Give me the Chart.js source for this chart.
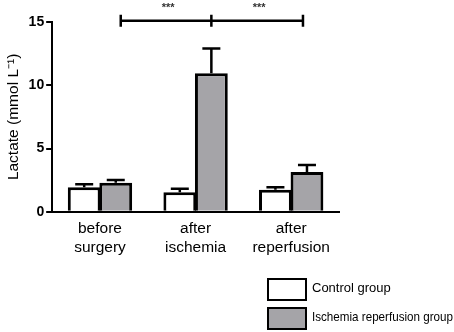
<!DOCTYPE html>
<html><head><meta charset="utf-8">
<script src="https://cdn.jsdelivr.net/npm/chart.js@4"></script>
<style>html,body{margin:0;padding:0;background:#fff;}#wrap{width:454px;height:332px;position:relative;}</style>
</head><body><div id="wrap"><canvas id="c" width="454" height="332"></canvas></div>
<script>
const categories = [['before','surgery'],['after','ischemia'],['after','reperfusion']];
const seriesNames = ['Control group','Ischemia reperfusion group'];
const control = [1.95, 1.55, 1.75];
const controlErr = [0.22, 0.28, 0.2];
const ischemia = [2.3, 10.95, 3.15];
const ischemiaErr = [0.22, 1.95, 0.55];
const yTicks = [0, 5, 10, 15];
const bracketLevel = 15.1;
const bracketLabel = '***';

const FONT = "'Liberation Sans', Arial, sans-serif";
const errors = [controlErr, ischemiaErr];

const errorBarPlugin = {
  id: 'errorBars',
  afterDatasetsDraw(chart) {
    const ctx = chart.ctx, y = chart.scales.y;
    ctx.save();
    ctx.strokeStyle = '#000';
    ctx.lineWidth = 2.5;
    chart.data.datasets.forEach((ds, di) => {
      const meta = chart.getDatasetMeta(di);
      meta.data.forEach((el, i) => {
        const top = y.getPixelForValue(ds.data[i] + errors[di][i]);
        ctx.beginPath();
        ctx.moveTo(el.x, el.y);
        ctx.lineTo(el.x, top);
        ctx.moveTo(el.x - 9, top);
        ctx.lineTo(el.x + 9, top);
        ctx.stroke();
      });
    });
    // significance bracket
    const m = chart.getDatasetMeta(1).data;
    const by = y.getPixelForValue(bracketLevel);
    const x0 = m[0].x + 5, x1 = m[1].x, x2 = m[2].x - 4;
    ctx.lineWidth = 2.5;
    ctx.beginPath();
    ctx.moveTo(x0, by); ctx.lineTo(x2, by);
    [x0, x1, x2].forEach(x => { ctx.moveTo(x, by - 6); ctx.lineTo(x, by + 6); });
    ctx.stroke();
    ctx.fillStyle = '#333';
    ctx.font = 'bold 11px ' + FONT;
    ctx.textAlign = 'center';
    ctx.textBaseline = 'middle';
    ctx.fillText(bracketLabel, (x0 + x1) / 2 + 2, by - 13);
    ctx.fillText(bracketLabel, (x1 + x2) / 2 + 2, by - 13);
    ctx.restore();
  }
};

const legendPlugin = {
  id: 'boxLegend',
  afterDraw(chart) {
    const ctx = chart.ctx;
    ctx.save();
    chart.data.datasets.forEach((ds, i) => {
      const bx = 267, by = 278 + i * 29, bw = 40, bh = 23;
      ctx.fillStyle = ds.backgroundColor;
      ctx.fillRect(bx, by, bw, bh);
      ctx.strokeStyle = '#000';
      ctx.lineWidth = 2;
      ctx.strokeRect(bx + 1, by + 1, bw - 2, bh - 2);
      ctx.fillStyle = '#000';
      ctx.font = '13px ' + FONT;
      ctx.textAlign = 'left';
      ctx.textBaseline = 'middle';
      const tx = bx + 45;
      ctx.fillText(ds.label, tx, by + 10, chart.width - tx - 1);
    });
    ctx.restore();
  }
};

new Chart(document.getElementById('c'), {
  type: 'bar',
  data: {
    labels: categories,
    datasets: [
      { label: seriesNames[0], data: control, backgroundColor: '#ffffff', borderColor: '#000', borderWidth: 3, borderSkipped: 'bottom' },
      { label: seriesNames[1], data: ischemia, backgroundColor: '#a5a4a8', borderColor: '#000', borderWidth: 3, borderSkipped: 'bottom' }
    ]
  },
  options: {
    responsive: false,
    animation: false,
    datasets: { bar: { categoryPercentage: 0.66, barPercentage: 1.04 } },
    layout: { padding: { top: 22, right: 115, bottom: 67, left: 4 } },
    plugins: { legend: { display: false }, tooltip: { enabled: false } },
    scales: {
      x: {
        grid: { display: false, drawTicks: false },
        border: { display: true, color: '#000', width: 2 },
        ticks: { color: '#000', font: { family: FONT, size: 15.5 }, padding: 8, maxRotation: 0 }
      },
      y: {
        min: 0, max: 15,
        afterBuildTicks(axis) { axis.ticks = yTicks.map(v => ({ value: v })); },
        grid: { drawOnChartArea: false, drawTicks: true, tickLength: 6, color: '#000', lineWidth: 2 },
        border: { display: true, color: '#000', width: 2 },
        ticks: { color: '#000', font: { family: FONT, size: 14, weight: 'bold' }, padding: 2 },
        title: { display: true, text: 'Lactate (mmol L\u207B\u00B9)', color: '#000', font: { family: FONT, size: 15.5 }, padding: { top: 0, bottom: 4 } }
      }
    }
  },
  plugins: [errorBarPlugin, legendPlugin]
});
</script></body></html>
